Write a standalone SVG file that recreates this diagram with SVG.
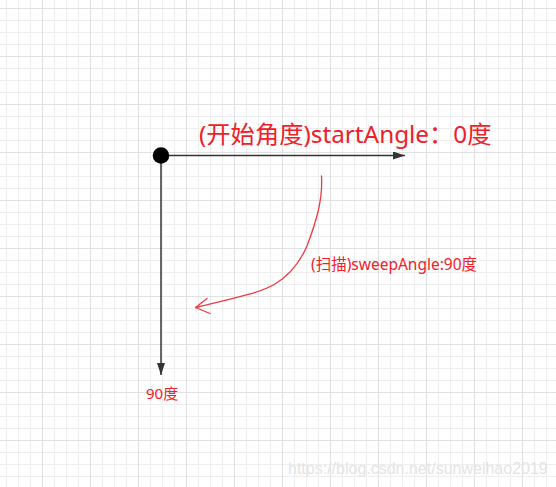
<svg xmlns="http://www.w3.org/2000/svg" width="556" height="487" viewBox="0 0 556 487">
  <defs>
    <pattern id="minor" patternUnits="userSpaceOnUse" x="6" y="8" width="12" height="12">
      <path d="M0.5 0V12M0 0.5H12" fill="none" stroke="#eeeeee" stroke-width="1"/>
    </pattern>
    <pattern id="major" patternUnits="userSpaceOnUse" x="42" y="8" width="48" height="48">
      <path d="M0.5 0V48M0 0.5H48" fill="none" stroke="#e1e1e1" stroke-width="1"/>
    </pattern>
    <marker id="arrowBlack" markerUnits="userSpaceOnUse" markerWidth="14" markerHeight="10" refX="12" refY="4" orient="auto">
      <path d="M0,0 L12,4 L0,8 Z" fill="#333333"/>
    </marker>
    <style>
      .axis { fill: none; stroke: #333333; stroke-width: 1.5; }
      .sweep { fill: none; stroke: #ee3a42; stroke-width: 1.3; stroke-linecap: round; stroke-linejoin: round; }
      .lbl { fill: #f0202a; font-family: "Noto Sans", "Noto Sans CJK SC", sans-serif; }
      .wm { fill: #e4e4e4; font-family: "Liberation Sans", Arial, sans-serif; font-size: 16px; }
    </style>
  </defs>

  <rect width="556" height="487" fill="#ffffff"/>
  <rect width="556" height="487" fill="url(#minor)"/>
  <rect width="556" height="487" fill="url(#major)"/>

  <g id="connectors">
    <path id="x-axis" class="axis" d="M161,155.5 H405" marker-end="url(#arrowBlack)"/>
    <path id="y-axis" class="axis" d="M161,155.5 V375" marker-end="url(#arrowBlack)"/>
    <g id="sweep-arrow">
      <path class="sweep" d="M321.5,176 C323,200 316,222 307,246 C300,262 290,275 275,284 C258,294 230,299 196,307.5"/>
      <path class="sweep" d="M207,298.5 L195.5,307.5 L210,313.5"/>
    </g>
  </g>

  <g id="origin">
    <circle cx="161" cy="155.5" r="8.3" fill="#000000"/>
  </g>

  <g id="label-start">
    <text class="lbl" x="199" y="143" font-size="24.3">(开始角度)startAngle：0度</text>
  </g>
  <g id="label-sweep">
    <text class="lbl" x="311" y="270" font-size="15.5">(扫描)sweepAngle:90度</text>
  </g>
  <g id="label-90">
    <text class="lbl" x="146" y="399" font-size="15">90度</text>
  </g>

  <text class="wm" x="288" y="474">https://blog.csdn.net/sunweihao2019</text>
</svg>
